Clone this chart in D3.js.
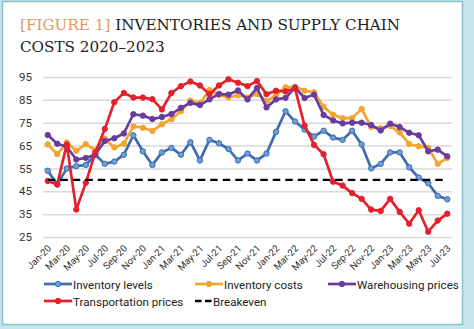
<!DOCTYPE html>
<html>
<head>
<meta charset="utf-8">
<script src="https://cdn.jsdelivr.net/npm/d3@7"></script>
<style>
  body { margin: 0; background: #fff; }
  svg { display: block; }
  text { font-family: Roboto, "Liberation Sans", sans-serif; fill: #222; }
</style>
</head>
<body>
<svg id="chart" width="474" height="329"></svg>
<script>
const months = [
  "Jan-20", "Feb-20", "Mar-20", "Apr-20", "May-20", "Jun-20", "Jul-20", "Aug-20", "Sep-20", "Oct-20", "Nov-20", "Dec-20",
  "Jan-21", "Feb-21", "Mar-21", "Apr-21", "May-21", "Jun-21", "Jul-21", "Aug-21", "Sep-21", "Oct-21", "Nov-21", "Dec-21",
  "Jan-22", "Feb-22", "Mar-22", "Apr-22", "May-22", "Jun-22", "Jul-22", "Aug-22", "Sep-22", "Oct-22", "Nov-22", "Dec-22",
  "Jan-23", "Feb-23", "Mar-23", "Apr-23", "May-23", "Jun-23", "Jul-23"
];
const tickMonths = months.filter((m, i) => i % 2 === 0);
const yTicks = [25, 35, 45, 55, 65, 75, 85, 95];

const inventoryLevels = [54, 48, 55, 56, 56.5, 61, 57, 58, 61, 69.5, 62.5, 56.5,
  62, 64, 61, 66.5, 58.5, 67.5, 66, 63.5, 58.5, 61.5, 58.5, 61.5,
  71, 80, 75.5, 72, 69, 71.5, 68.5, 67.5, 71.5, 65.5, 55, 57,
  62, 62, 55.5, 51, 48.5, 43, 41.5];
const inventoryCosts = [65.5, 61.2, 66.3, 62.7, 65.6, 63, 68, 64.2, 65.8, 73.4, 72.8, 71.4,
  74.3, 76.5, 80, 84.7, 83.5, 89.3, 87, 86.1, 87, 86, 87.6, 84.5,
  87, 90.5, 90.7, 89, 88.3, 82, 78.5, 77, 77, 81, 73.2, 72.6,
  73.6, 70.7, 65.7, 64.7, 64, 57, 59.6];
const warehousingPrices = [69.6, 65.8, 64.5, 58.9, 59.6, 61.1, 67, 68.2, 70.3, 78.7, 78.1, 76.6,
  77.5, 78.8, 81.5, 83.7, 82.7, 85.2, 87.6, 87.3, 89.1, 85.2, 90.2, 81.7,
  85.2, 85.9, 90.4, 85.8, 87.3, 78.4, 76, 74.7, 75, 75, 74, 71.6,
  74.6, 73.1, 70.6, 69.5, 62.5, 63.2, 60.3];
const transportationPrices = [49.5, 48, 65.5, 37, 48.7, 62, 72.3, 84, 88, 86, 86, 85.3,
  80.8, 88, 91, 93, 91.3, 87.5, 91.3, 94, 92.5, 91, 93.2, 87.5,
  89, 88.7, 90, 73.7, 65.3, 61.2, 49.2, 47.5, 44.2, 41.7, 37, 36.4,
  41.7, 36, 30.8, 36.7, 27.3, 32.2, 35.2];
const breakeven = 50;

const series = [
  { name: "Inventory levels", values: inventoryLevels, color: "#3e6cad", dot: "#6d9fd9" },
  { name: "Inventory costs", values: inventoryCosts, color: "#f2a530", dot: "#f2a530" },
  { name: "Warehousing prices", values: warehousingPrices, color: "#6a3c9e", dot: "#6a3c9e" },
  { name: "Transportation prices", values: transportationPrices, color: "#e5202d", dot: "#e5202d" }
];

const svg = d3.select("#chart");

// frame
svg.append("rect").attr("width", 474).attr("height", 329).attr("fill", "#c9e4ea");
svg.append("rect")
  .attr("x", 2.5).attr("y", 1.5).attr("width", 460).attr("height", 323)
  .attr("fill", "#fff").attr("stroke", "#8cc0cc").attr("stroke-width", 1.5);

// title
const title = svg.append("text").attr("x", 20).attr("y", 30)
  .style("font-family", "'DejaVu Serif', serif").style("font-size", "15.2px");
title.append("tspan").style("fill", "#e29a5c").text("[FIGURE 1] ");
title.append("tspan").text("INVENTORIES AND SUPPLY CHAIN");
svg.append("text").attr("x", 20).attr("y", 52)
  .style("font-family", "'DejaVu Serif', serif").style("font-size", "15.2px")
  .text("COSTS 2020\u20132023");

const x = d3.scaleBand().domain(months).range([43, 452]);
const cx = m => x(m) + x.bandwidth() / 2;
const y = d3.scaleLinear().domain([25, 95]).range([237, 77]);

// gridlines + y labels
const yAxis = svg.append("g").attr("transform", "translate(43,0)")
  .call(d3.axisLeft(y).tickValues(yTicks).tickSize(-409).tickPadding(11));
yAxis.select(".domain").remove();
yAxis.selectAll(".tick line").attr("stroke", "#d9d9d9").attr("stroke-width", 1.5);
yAxis.selectAll(".tick text").style("font-size", "11.5px").style("fill", "#333");

// rotated month labels
svg.append("g").selectAll("text")
  .data(tickMonths)
  .join("text")
  .attr("text-anchor", "end")
  .attr("transform", d => `translate(${cx(d) + 4},249) rotate(-45)`)
  .style("font-size", "9.6px")
  .style("fill", "#333")
  .text(d => d);

const line = d3.line().x((d, i) => cx(months[i])).y(d => y(d));

series.forEach(s => {
  const g = svg.append("g");
  g.append("path").attr("d", line(s.values))
    .attr("fill", "none").attr("stroke", s.color).attr("stroke-width", 2.7)
    .attr("stroke-linejoin", "round");
  g.selectAll("circle").data(s.values).join("circle")
    .attr("cx", (d, i) => cx(months[i])).attr("cy", d => y(d)).attr("r", 2.7)
    .attr("fill", s.dot).attr("stroke", s.color).attr("stroke-width", 1);
});

// breakeven
svg.append("line")
  .attr("x1", cx(months[0])).attr("x2", cx(months[months.length - 1]))
  .attr("y1", y(breakeven)).attr("y2", y(breakeven))
  .attr("stroke", "#000").attr("stroke-width", 2.4).attr("stroke-dasharray", "7.5,5");

// legend
const legendItems = [
  { ...series[0], x: 44, y: 284 },
  { ...series[1], x: 195, y: 284 },
  { ...series[2], x: 328, y: 284 },
  { ...series[3], x: 44, y: 301 },
  { name: "Breakeven", color: "#000", dashed: true, x: 195, y: 301 }
];
const lg = svg.append("g").selectAll("g").data(legendItems).join("g")
  .attr("transform", d => `translate(${d.x},${d.y})`);
lg.append("line").attr("x1", 0).attr("x2", d => d.dashed ? 17 : 28)
  .attr("stroke", d => d.color).attr("stroke-width", d => d.dashed ? 2.4 : 2.7)
  .attr("stroke-dasharray", d => d.dashed ? "6.5,3.5" : null);
lg.filter(d => !d.dashed).append("circle").attr("cx", 14).attr("r", 2.7)
  .attr("fill", d => d.dot).attr("stroke", d => d.color).attr("stroke-width", 1);
lg.append("text").attr("x", d => d.dashed ? 18 : 29).attr("y", 4.5)
  .style("font-size", "11.6px").style("fill", "#222").text(d => d.name);
</script>
</body>
</html>
